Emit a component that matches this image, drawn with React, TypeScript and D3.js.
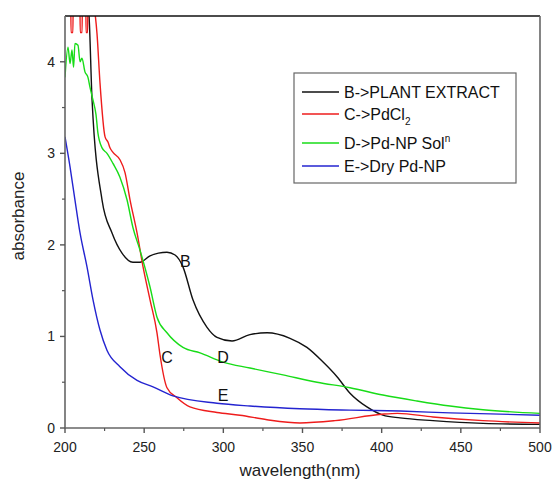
import React from "react";
import * as d3 from "d3";

type Pt = [number, number];

// B -> PLANT EXTRACT (wavelength nm, absorbance)
const plantExtract: Pt[] = [
  [212.5, 4.9], [215.2, 4.5], [217.1, 3.58], [223.4, 2.49], [229.7, 2.13], [236.0, 1.91],
  [242.9, 1.81], [247.4, 1.81], [253.7, 1.88], [259, 1.91], [264.4, 1.92], [269.5, 1.89],
  [274.5, 1.76], [280.8, 1.40], [289.7, 1.10], [296.0, 0.99], [305.5, 0.95], [316.8, 1.02],
  [327.6, 1.04], [342.1, 0.98], [352.8, 0.88], [363.0, 0.72], [371.8, 0.56], [380.0, 0.38],
  [390.7, 0.23], [400.8, 0.14], [411.6, 0.11], [432.4, 0.08], [464.0, 0.05], [500, 0.04],
];

// C -> PdCl2
const pdcl2: Pt[] = [
  [200, 4.9], [203.5, 4.9], [203.8, 4.32], [205.0, 4.32], [205.3, 4.9], [209.3, 4.9],
  [209.6, 4.32], [210.8, 4.32], [211.1, 4.9], [213.0, 4.9], [213.3, 4.32], [214.3, 4.32],
  [214.6, 4.9], [218.5, 4.6], [220.2, 4.31], [222.1, 3.77], [225.3, 3.18], [227.2, 3.12],
  [228.4, 3.06], [230.3, 3.01], [234.7, 2.93], [237.9, 2.79], [241.1, 2.49], [245.5, 2.13],
  [249.3, 1.76], [253.7, 1.40], [258.1, 1.04], [260.0, 0.8], [264.4, 0.44], [270.7, 0.33],
  [278.9, 0.23], [296.0, 0.17], [310.5, 0.14], [327.6, 0.09], [348.4, 0.055], [370.5, 0.08],
  [400, 0.15], [410, 0.16], [432.4, 0.12], [464, 0.08], [500, 0.055],
];

// D -> Pd-NP Sol^n
const pdnpSol: Pt[] = [
  [200, 3.83], [201.9, 4.16], [203.2, 3.98], [204.4, 4.13], [205.4, 3.94], [206.3, 4.2],
  [208.2, 4.18], [209.5, 4.0], [210.7, 4.04], [212.6, 3.89], [214.5, 3.83], [215.8, 3.72],
  [217.7, 3.58], [219.6, 3.42], [220.8, 3.22], [223.4, 3.06], [226.5, 3.0], [230.3, 2.89],
  [234.7, 2.74], [239.2, 2.49], [242.9, 2.19], [247.4, 1.94], [253.7, 1.54], [258.1, 1.21],
  [264.4, 1.04], [274.5, 0.88], [285.3, 0.82], [299.8, 0.72], [316.8, 0.655], [337.7, 0.58],
  [359.2, 0.5], [380, 0.44], [400.8, 0.36], [422.3, 0.295], [443.2, 0.24], [464, 0.2], [500, 0.16],
];

// E -> Dry Pd-NP
const dryPdnp: Pt[] = [
  [200, 3.18], [203.2, 2.85], [206.3, 2.49], [209.5, 2.13], [213.9, 1.76], [217.7, 1.4],
  [222.1, 1.07], [226.5, 0.85], [234.7, 0.67], [245.5, 0.52], [255.6, 0.45], [268.2, 0.35],
  [296, 0.27], [316.8, 0.24], [348.4, 0.21], [380, 0.195], [411.6, 0.185], [443.2, 0.165], [500, 0.14],
];

const seriesNames = ["B->PLANT EXTRACT", "C->PdCl", "D->Pd-NP Sol", "E->Dry Pd-NP"];
const seriesColors = ["#111111", "#ee1c1c", "#18dc18", "#2424d0"];
const seriesData = [plantExtract, pdcl2, pdnpSol, dryPdnp];

const curveLabels = ["B", "C", "D", "E"];
const curveLabelPos: Pt[] = [[276, 1.82], [264.4, 0.77], [299.8, 0.77], [299.8, 0.36]];

const xTicks = [200, 250, 300, 350, 400, 450, 500];
const xMinorTicks = [225, 275, 325, 375, 425, 475];
const yTicks = [0, 1, 2, 3, 4];
const yMinorTicks = [0.5, 1.5, 2.5, 3.5];

const W = 552;
const H = 488;
const L = 65, R = 540, T = 16, B = 428;

export default function App() {
  const x = d3.scaleLinear().domain([200, 500]).range([L, R]);
  const y = d3.scaleLinear().domain([0, 4.5]).range([B, T]);
  const line = d3
    .line<Pt>()
    .x((d) => x(d[0]))
    .y((d) => y(d[1]))
    .curve(d3.curveMonotoneX);

  const font = "'Liberation Sans', Arial, sans-serif";
  const legendRows = [92, 114, 143, 166];

  return (
    <svg
      width={W}
      height={H}
      style={{ position: "absolute", left: 0, top: 0, background: "#fff" }}
      fontFamily={font}
    >
      <defs>
        <clipPath id="plotClip">
          <rect x={L} y={T} width={R - L} height={B - T} />
        </clipPath>
      </defs>
      <rect x={0} y={0} width={W} height={H} fill="#fff" />

      <g clipPath="url(#plotClip)">
        {seriesData.map((s, i) => (
          <path key={i} d={line(s) || ""} fill="none" stroke={seriesColors[i]} strokeWidth={1.4} />
        ))}
      </g>

      {/* frame */}
      <line x1={L} x2={R} y1={T} y2={T} stroke="#111" strokeWidth={1.6} />
      <line x1={R} x2={R} y1={T} y2={B} stroke="#666" strokeWidth={1.6} />
      <line x1={L} x2={L} y1={T} y2={B} stroke="#666" strokeWidth={1.6} />
      <line x1={L} x2={R} y1={B} y2={B} stroke="#666" strokeWidth={1.6} />

      {/* x ticks */}
      {xTicks.map((t) => (
        <g key={"xt" + t}>
          <line x1={x(t)} x2={x(t)} y1={B} y2={B + 5} stroke="#555" strokeWidth={1.4} />
          <text x={x(t)} y={452} textAnchor="middle" fontSize={14} fill="#222">
            {t}
          </text>
        </g>
      ))}
      {xMinorTicks.map((t) => (
        <line key={"xm" + t} x1={x(t)} x2={x(t)} y1={B} y2={B + 3} stroke="#555" strokeWidth={1.2} />
      ))}

      {/* y ticks */}
      {yTicks.map((t) => (
        <g key={"yt" + t}>
          <line x1={L - 5} x2={L} y1={y(t)} y2={y(t)} stroke="#555" strokeWidth={1.4} />
          <text x={55} y={y(t)} dy="0.36em" textAnchor="end" fontSize={14} fill="#222">
            {t}
          </text>
        </g>
      ))}
      {yMinorTicks.map((t) => (
        <line key={"ym" + t} x1={L - 3} x2={L} y1={y(t)} y2={y(t)} stroke="#555" strokeWidth={1.2} />
      ))}

      {/* axis titles */}
      <text x={300} y={476} textAnchor="middle" fontSize={17} fill="#222">
        wavelength(nm)
      </text>
      <text
        transform={`translate(24, 216) rotate(-90)`}
        textAnchor="middle"
        fontSize={17}
        fill="#222"
      >
        absorbance
      </text>

      {/* curve labels */}
      {curveLabels.map((lab, i) => (
        <text
          key={lab}
          x={x(curveLabelPos[i][0])}
          y={y(curveLabelPos[i][1])}
          dy="0.36em"
          textAnchor="middle"
          fontSize={16}
          fill="#111"
        >
          {lab}
        </text>
      ))}

      {/* legend */}
      <rect x={294} y={73} width={222} height={110} fill="#fff" stroke="#666" strokeWidth={1.2} />
      {seriesNames.map((name, i) => (
        <g key={name}>
          <line x1={302} x2={339} y1={legendRows[i]} y2={legendRows[i]} stroke={seriesColors[i]} strokeWidth={1.4} />
          <text x={344} y={legendRows[i]} dy="0.36em" fontSize={16} fill="#111">
            {name}
            {i === 1 && (
              <tspan fontSize={10} dy="5">
                2
              </tspan>
            )}
            {i === 2 && (
              <tspan fontSize={10} dy="-7">
                n
              </tspan>
            )}
          </text>
        </g>
      ))}
    </svg>
  );
}
